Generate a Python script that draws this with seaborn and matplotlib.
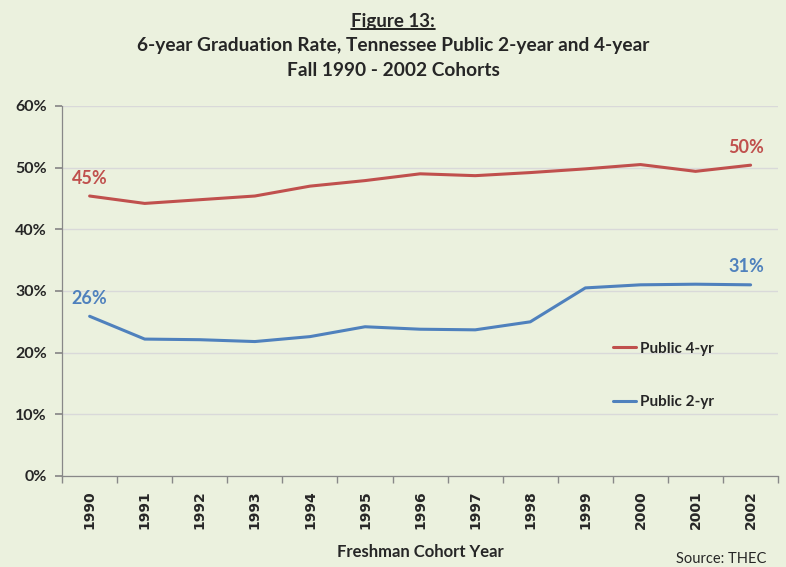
import matplotlib
matplotlib.use('Agg')
import matplotlib.pyplot as plt
import matplotlib.lines as mlines
from matplotlib.ticker import FixedLocator, PercentFormatter
import seaborn as sns
import pandas as pd

# --- Data ---
years = [1990, 1991, 1992, 1993, 1994, 1995, 1996, 1997, 1998, 1999, 2000, 2001, 2002]
public_4yr = [45.4, 44.2, 44.8, 45.4, 47.0, 47.9, 49.0, 48.7, 49.2, 49.8, 50.5, 49.4, 50.4]
public_2yr = [25.9, 22.2, 22.1, 21.8, 22.6, 24.2, 23.8, 23.7, 25.0, 30.5, 31.0, 31.1, 31.0]
series_names = ['Public 4-yr', 'Public 2-yr']
colors = {'Public 4-yr': '#C0504D', 'Public 2-yr': '#4F81BD'}

df = pd.DataFrame({'year': years * 2,
                   'rate': public_4yr + public_2yr,
                   'sector': ['Public 4-yr'] * len(years) + ['Public 2-yr'] * len(years)})

# --- Setup ---
bg = '#EBF1DE'
sns.set_theme(style='white')
plt.rcParams['font.family'] = ['Lato', 'DejaVu Sans']

fig = plt.figure(figsize=(7.86, 5.67), dpi=100, facecolor=bg)
ax = fig.add_axes([0.079, 0.1605, 0.911, 0.6526], facecolor=bg)

sns.lineplot(data=df, x='year', y='rate', hue='sector', hue_order=series_names,
             palette=colors, linewidth=2.2, ax=ax, legend=False)

# --- Axes ---
ax.set_ylim(0, 60)
ax.set_xlim(years[0] - 0.5, years[-1] + 0.5)
ax.set_yticks(range(0, 61, 10))
ax.yaxis.set_major_formatter(PercentFormatter(decimals=0))
ax.grid(axis='y', color='#D9D9D9', linewidth=1)
ax.set_axisbelow(True)
for side in ['top', 'right']:
    ax.spines[side].set_visible(False)
for side in ['left', 'bottom']:
    ax.spines[side].set_color('#888888')
    ax.spines[side].set_linewidth(0.9)

ax.set_xticks(years)
ax.set_xticklabels([str(y) for y in years], rotation=90, fontweight='bold',
                   fontsize=10, family='DejaVu Sans')
ax.xaxis.set_minor_locator(FixedLocator([y - 0.5 for y in years] + [years[-1] + 0.5]))
ax.tick_params(axis='x', which='major', length=0, pad=10)
ax.tick_params(axis='x', which='minor', length=5, color='#888888', direction='out', bottom=True)
ax.tick_params(axis='y', length=5, color='#888888', direction='out', left=True,
               labelsize=11.5, pad=6)
for lbl in ax.get_yticklabels():
    lbl.set_fontweight('bold')

ax.set_xlabel('Freshman Cohort Year', fontsize=12, fontweight='bold', labelpad=11)
ax.set_ylabel('')

# --- End-point labels ---
ends = [('Public 4-yr', public_4yr), ('Public 2-yr', public_2yr)]
for name, vals in ends:
    ax.annotate(f'{vals[0]:.0f}%', (years[0], vals[0]), xytext=(0, 9),
                textcoords='offset points', ha='center', fontsize=13,
                fontweight='bold', color=colors[name])
    ax.annotate(f'{vals[-1]:.0f}%', (years[-1], vals[-1]), xytext=(-3, 9),
                textcoords='offset points', ha='center', fontsize=13,
                fontweight='bold', color=colors[name])

# --- Legend ---
handles = [mlines.Line2D([], [], color=colors[n], linewidth=2.2) for n in series_names]
leg = ax.legend(handles, series_names, loc='upper left', bbox_to_anchor=(0.75, 0.40),
                frameon=False, handlelength=1.5, handletextpad=0.3, labelspacing=2.6,
                prop={'weight': 'bold', 'size': 11})

# --- Titles ---
t1 = fig.text(0.5, 0.962, 'Figure 13:', ha='center', va='center',
              fontsize=13.5, fontweight='bold')
fig.text(0.5, 0.919, '6-year Graduation Rate, Tennessee Public 2-year and 4-year',
         ha='center', va='center', fontsize=13.8, fontweight='bold')
fig.text(0.5, 0.875, 'Fall 1990 - 2002 Cohorts', ha='center', va='center',
         fontsize=13.8, fontweight='bold')
fig.text(0.975, 0.002, 'Source: THEC', ha='right', va='bottom', fontsize=10.5)

# underline "Figure 13:"
fig.canvas.draw()
bb = t1.get_window_extent().transformed(fig.transFigure.inverted())
fig.add_artist(mlines.Line2D([bb.x0, bb.x1], [bb.y0 + 0.002, bb.y0 + 0.002],
                             color='black', linewidth=1.2, transform=fig.transFigure))

plt.savefig('out.png', dpi=100, facecolor=bg)
plt.close()
